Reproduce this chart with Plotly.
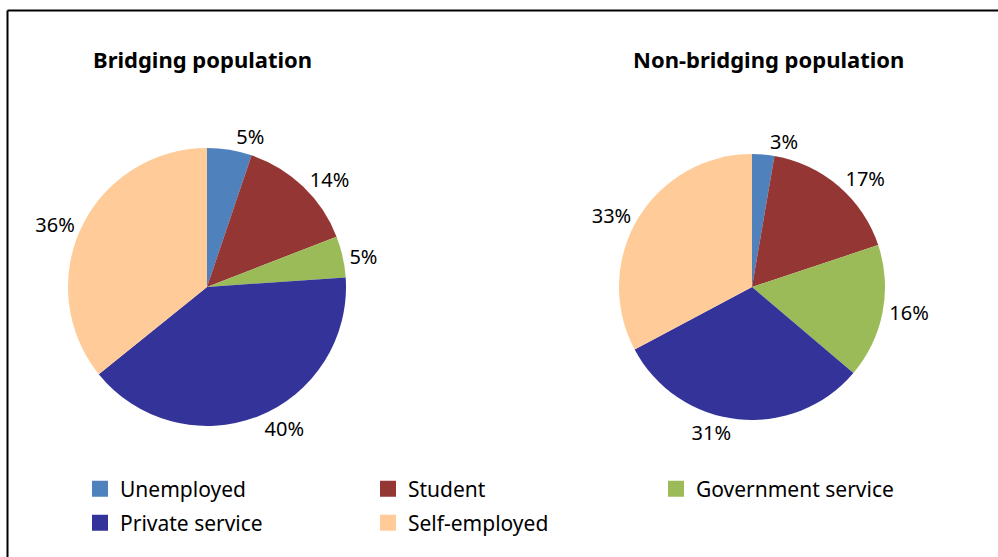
import plotly.graph_objects as go

categories = ["Unemployed", "Student", "Government service", "Private service", "Self-employed"]
bridging = [5.2, 13.9, 4.8, 40.3, 35.8]
non_bridging = [2.7, 17.2, 16.3, 31.0, 32.8]
titles = ["Bridging population", "Non-bridging population"]
colors = ["#4F81BD", "#943634", "#9BBB59", "#333399", "#FFCC99"]

FONT = "Noto Sans"
W, H = 998, 557

fig = go.Figure()

pie_common = dict(
    labels=categories,
    sort=False,
    direction="clockwise",
    rotation=0,
    marker=dict(colors=colors, line=dict(width=0)),
    textposition="outside",
    texttemplate="%{percent:.0%}",
    textfont=dict(family=FONT, size=20, color="#000000"),
    showlegend=False,
    hoverinfo="label+percent",
)

fig.add_trace(go.Pie(values=bridging, name=titles[0],
                     domain=dict(x=[68 / W, 346 / W], y=[(H - 426) / H, (H - 148) / H]),
                     **pie_common))
fig.add_trace(go.Pie(values=non_bridging, name=titles[1],
                     domain=dict(x=[619 / W, 885 / W], y=[(H - 420) / H, (H - 154) / H]),
                     **pie_common))

# legend entries (square swatches): first three in row 1, rest in row 2
for i, (cat, col) in enumerate(zip(categories, colors)):
    fig.add_trace(go.Scatter(x=[None], y=[None], mode="markers", name=cat,
                             marker=dict(symbol="square", size=20, color=col),
                             legend="legend" if i < 3 else "legend2",
                             showlegend=True, hoverinfo="skip"))

fig.update_xaxes(visible=False)
fig.update_yaxes(visible=False)

annotations = [
    dict(text="<b>%s</b>" % titles[0], x=202 / W, y=(H - 59) / H, xref="paper", yref="paper",
         showarrow=False, font=dict(family=FONT, size=22, color="#000000"), xanchor="center", yanchor="middle"),
    dict(text="<b>%s</b>" % titles[1], x=768 / W, y=(H - 59) / H, xref="paper", yref="paper",
         showarrow=False, font=dict(family=FONT, size=22, color="#000000"), xanchor="center", yanchor="middle"),
]

shapes = [
    dict(type="line", xref="paper", yref="paper", x0=7.5 / W, x1=7.5 / W, y0=0, y1=(H - 10.5) / H,
         line=dict(color="#000000", width=2)),
    dict(type="line", xref="paper", yref="paper", x0=7.5 / W, x1=1, y0=(H - 10.5) / H, y1=(H - 10.5) / H,
         line=dict(color="#000000", width=2)),
]

legend_common = dict(orientation="h", xanchor="left", yanchor="middle",
                     entrywidth=243, entrywidthmode="pixels", traceorder="normal",
                     font=dict(family=FONT, size=21, color="#000000"), bgcolor="rgba(0,0,0,0)")

fig.update_layout(
    width=W, height=H,
    margin=dict(l=0, r=0, t=0, b=0),
    paper_bgcolor="white", plot_bgcolor="white",
    font=dict(family=FONT, color="#000000"),
    annotations=annotations,
    shapes=shapes,
    legend=dict(x=80 / W, y=(H - 489) / H, **legend_common),
    legend2=dict(x=80 / W, y=(H - 523) / H, **legend_common),
)

fig.write_html("out.html", config={"displayModeBar": False},
               post_script="document.body.style.margin='0';document.body.style.overflow='hidden';")
